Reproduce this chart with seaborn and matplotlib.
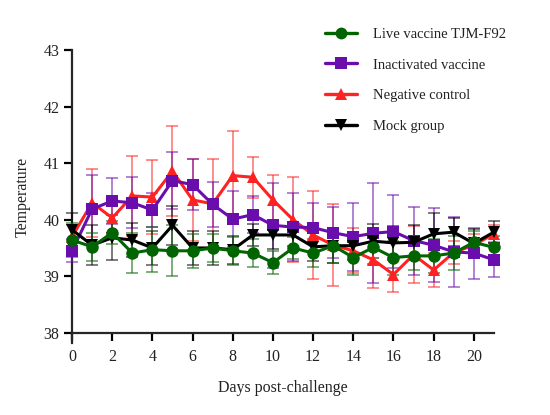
import numpy as np
import pandas as pd
import seaborn as sns
import matplotlib
matplotlib.use("Agg")
import matplotlib.pyplot as plt
from matplotlib.lines import Line2D

days = list(range(22))
groups = ["Live vaccine TJM-F92", "Inactivated vaccine", "Negative control", "Mock group"]

live_mean = [39.64, 39.52, 39.77, 39.41, 39.47, 39.45, 39.45, 39.50, 39.45, 39.41, 39.24, 39.50,
             39.41, 39.54, 39.33, 39.51, 39.33, 39.36, 39.36, 39.41, 39.60, 39.51]
live_sd = [0.30, 0.25, 0.20, 0.35, 0.40, 0.45, 0.30, 0.25, 0.25, 0.25, 0.20, 0.20,
           0.25, 0.30, 0.30, 0.30, 0.30, 0.25, 0.30, 0.30, 0.20, 0.20]
inact_mean = [39.45, 40.19, 40.33, 40.30, 40.17, 40.69, 40.62, 40.27, 40.01, 40.09, 39.90, 39.87,
              39.86, 39.77, 39.70, 39.76, 39.79, 39.63, 39.55, 39.43, 39.41, 39.29]
inact_sd = [0.20, 0.60, 0.40, 0.45, 0.30, 0.50, 0.45, 0.40, 0.50, 0.33, 0.75, 0.60,
            0.43, 0.45, 0.60, 0.88, 0.65, 0.60, 0.65, 0.62, 0.45, 0.30]
neg_mean = [39.70, 40.30, 40.03, 40.42, 40.40, 40.86, 40.35, 40.28, 40.78, 40.75, 40.35, 40.00,
            39.73, 39.55, 39.45, 39.29, 39.03, 39.38, 39.11, 39.42, 39.55, 39.75]
neg_sd = [0.20, 0.60, 0.30, 0.70, 0.65, 0.80, 0.72, 0.80, 0.78, 0.36, 0.44, 0.75,
          0.78, 0.72, 0.40, 0.50, 0.30, 0.50, 0.30, 0.20, 0.20, 0.15]
mock_mean = [39.82, 39.55, 39.68, 39.64, 39.50, 39.90, 39.50, 39.50, 39.47, 39.73, 39.73, 39.73,
             39.52, 39.54, 39.54, 39.62, 39.59, 39.60, 39.75, 39.78, 39.58, 39.78]
mock_sd = [0.30, 0.35, 0.40, 0.30, 0.30, 0.35, 0.30, 0.30, 0.25, 0.20, 0.25, 0.20,
           0.25, 0.30, 0.25, 0.30, 0.30, 0.30, 0.37, 0.25, 0.25, 0.20]

colors = {"Live vaccine TJM-F92": "#006400", "Inactivated vaccine": "#6A0DAD",
          "Negative control": "#FF2222", "Mock group": "#000000"}
markers = {"Live vaccine TJM-F92": "o", "Inactivated vaccine": "s",
           "Negative control": "^", "Mock group": "v"}
means = {groups[0]: live_mean, groups[1]: inact_mean, groups[2]: neg_mean, groups[3]: mock_mean}
sds = {groups[0]: live_sd, groups[1]: inact_sd, groups[2]: neg_sd, groups[3]: mock_sd}

rows = []
for g in groups:
    for d, m, s in zip(days, means[g], sds[g]):
        rows.append({"day": d, "temp": m, "sd": s, "group": g})
df = pd.DataFrame(rows)

sns.set_style("ticks")
plt.rcParams["font.family"] = ["Liberation Serif", "DejaVu Serif"]

fig = plt.figure(figsize=(5.5, 4.15), dpi=100)
ax = fig.add_axes([0.131, 0.1735, 0.767, 0.706])

draw_order = ["Negative control", "Inactivated vaccine", "Mock group", "Live vaccine TJM-F92"]
for i, g in enumerate(draw_order):
    sub = df[df.group == g]
    ax.errorbar(sub.day, sub.temp, yerr=sub.sd, fmt="none", ecolor=colors[g], alpha=0.65,
                elinewidth=1.1, capsize=4.5, capthick=1.1, clip_on=False, zorder=2 + i)
for i, g in enumerate(draw_order):
    sub = df[df.group == g]
    sns.lineplot(data=sub, x="day", y="temp", ax=ax, color=colors[g], marker=markers[g],
                 markersize=9, markeredgewidth=0, linewidth=2.2, legend=False,
                 clip_on=False, zorder=6 + i)

ax.set_xlim(0, 21)
ax.set_ylim(37.82, 43)
ax.set_xticks(range(0, 21, 2))
ax.set_yticks(range(38, 44))
ax.spines["bottom"].set_position(("data", 38))
for s in ["top", "right"]:
    ax.spines[s].set_visible(False)
for s in ["left", "bottom"]:
    ax.spines[s].set_linewidth(1.6)
ax.tick_params(axis="both", width=1.6, length=5.5, labelsize=11.5, color="black", labelcolor="#222222")
ax.tick_params(axis="x", pad=6)
ax.set_xlabel("Days post-challenge", fontsize=11.5, color="#222222", labelpad=11)
ax.set_ylabel("Temperature", fontsize=11.5, color="#222222", labelpad=9)

handles = [Line2D([0], [0], color=colors[g], marker=markers[g], markersize=8.5, markeredgewidth=0,
                  linewidth=2.4) for g in groups]
fig.legend(handles, groups, loc="upper left", bbox_to_anchor=(0.567, 0.965), frameon=False,
           fontsize=10.5, handlelength=2.2, handletextpad=1.1, labelspacing=1.2,
           labelcolor="#222222")

fig.savefig("out.png", dpi=100)
